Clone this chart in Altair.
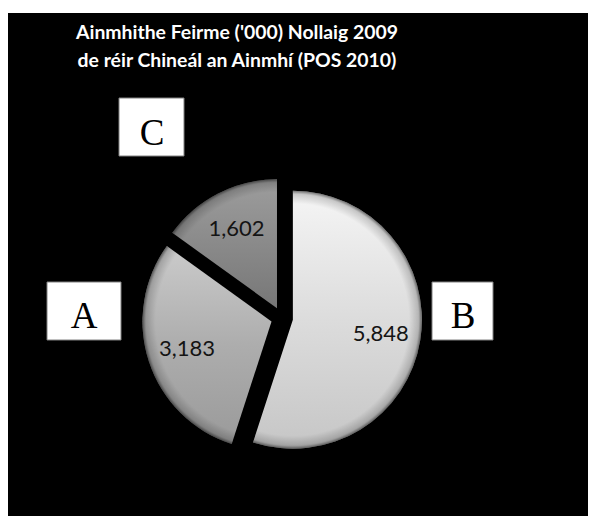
import altair as alt
import pandas as pd
import numpy as np

# ---- data ----
categories = ["B", "A", "C"]
values = [5848, 3183, 1602]
value_labels = ["5,848", "3,183", "1,602"]
title_lines = ["Ainmhithe Feirme ('000) Nollaig 2009",
               "de réir Chineál an Ainmhí (POS 2010)"]
box_letters = ["A", "B", "C"]

# ---- layout / style ----
W, H = 580, 503
CX, CY = 274, 305
R = 129
EXPLODE = 11
LABEL_R = 100
slice_stops = {"B": ["#f5f5f5", "#dcdcdc", "#c6c6c6"],
               "A": ["#cbcbcb", "#adadad", "#9a9a9a"],
               "C": ["#9d9d9d", "#8a8a8a", "#777777"]}


def sector_box(a0, a1):
    pts = [(0.0, 0.0), (np.sin(a0), -np.cos(a0)), (np.sin(a1), -np.cos(a1))]
    for k in range(0, 9):
        a = k * np.pi / 2
        if a0 < a < a1:
            pts.append((np.sin(a), -np.cos(a)))
    xs = [p[0] for p in pts]
    ys = [p[1] for p in pts]
    return min(xs), max(xs), min(ys), max(ys)


def edge_fill(a0, a1):
    x0, x1, y0, y1 = sector_box(a0, a1)
    side = max(x1 - x0, y1 - y0)
    sx0 = (x1 + x0) / 2 - side / 2
    sy0 = (y1 + y0) / 2 - side / 2
    fx, fy, r = (0 - sx0) / side, (0 - sy0) / side, 1 / side
    return {"gradient": "radial", "x1": fx, "y1": fy, "r1": 0,
            "x2": fx, "y2": fy, "r2": r,
            "stops": [{"offset": 0, "color": "rgba(0,0,0,0)"},
                      {"offset": 0.9, "color": "rgba(0,0,0,0)"},
                      {"offset": 0.975, "color": "rgba(0,0,0,0.18)"},
                      {"offset": 1, "color": "rgba(0,0,0,0.55)"}]}


def body_fill(cols):
    return {"gradient": "linear", "x1": 0, "y1": 0, "x2": 0, "y2": 1,
            "stops": [{"offset": 0, "color": cols[0]},
                      {"offset": 0.5, "color": cols[1]},
                      {"offset": 1, "color": cols[2]}]}


total = sum(values)
cum = np.cumsum(values)
angles = {}
for c, v, e in zip(categories, values, cum):
    angles[c] = (2 * np.pi * (e - v) / total, 2 * np.pi * e / total)

df = pd.DataFrame({"cat": categories, "value": values, "label": value_labels})

base = alt.Chart(df).transform_window(
    cum="sum(value)", frame=[None, 0]
).transform_joinaggregate(
    total="sum(value)"
).transform_calculate(
    a0="2*PI*(datum.cum - datum.value)/datum.total",
    a1="2*PI*datum.cum/datum.total",
).transform_calculate(
    mid="(datum.a0 + datum.a1)/2"
).transform_calculate(
    px=f"{CX} + {EXPLODE}*sin(datum.mid)",
    py=f"{CY} - {EXPLODE}*cos(datum.mid)",
    lx=f"{CX} + {LABEL_R}*sin(datum.mid)",
    ly=f"{CY} - {LABEL_R}*cos(datum.mid)",
)

arc_enc = dict(
    x=alt.X("px:Q", scale=None, axis=None),
    y=alt.Y("py:Q", scale=None, axis=None),
    theta=alt.Theta("a0:Q", scale=None, stack=None),
    theta2="a1:Q",
)

layers = []
for c in categories:
    a0, a1 = angles[c]
    sl = base.transform_filter(alt.datum.cat == c)
    layers.append(sl.mark_arc(radius=R, fill=body_fill(slice_stops[c])).encode(**arc_enc))
    layers.append(sl.mark_arc(radius=R, fill=edge_fill(a0, a1)).encode(**arc_enc))

labels = base.mark_text(font="Lato", fontSize=22, color="#141414").encode(
    x=alt.X("lx:Q", scale=None, axis=None),
    y=alt.Y("ly:Q", scale=None, axis=None),
    text="label:N",
)
layers.append(labels)

one = pd.DataFrame({"k": [0]})

# title lines
title_y = [26, 54]
for line, ty in zip(title_lines, title_y):
    layers.append(
        alt.Chart(one).mark_text(
            text=line, font="Lato", fontSize=19.4, fontWeight="bold",
            color="white", align="center", baseline="alphabetic"
        ).encode(x=alt.value(229), y=alt.value(ty))
    )

# letter boxes
boxes = {"A": (39, 113, 269, 327, 76, 315),
         "B": (424, 485, 269, 327, 455, 315),
         "C": (111, 176, 85, 143, 144, 132)}
for letter in box_letters:
    x0, x1, y0, y1, tx, ty = boxes[letter]
    layers.append(
        alt.Chart(one).mark_rect(fill="white", stroke="#808080", strokeWidth=1).encode(
            x=alt.value(x0), x2=alt.value(x1), y=alt.value(y0), y2=alt.value(y1)
        )
    )
    layers.append(
        alt.Chart(one).mark_text(
            text=letter, font="Liberation Serif", fontSize=37, color="black",
            align="center", baseline="alphabetic"
        ).encode(x=alt.value(tx), y=alt.value(ty))
    )

chart = alt.layer(*layers).properties(
    width=W, height=H,
    padding={"top": 5, "left": 0, "right": 0, "bottom": 0},
    autosize="none",
    background="white",
).configure_view(fill="black", stroke=None)

chart.save("out.html", embed_options={"renderer": "svg", "actions": False})
